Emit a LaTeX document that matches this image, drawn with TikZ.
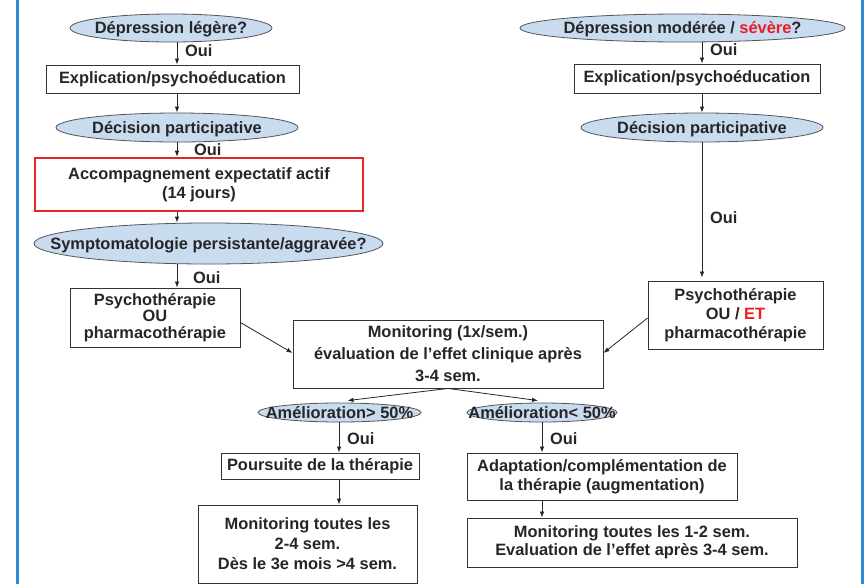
\documentclass[tikz,border=0pt]{standalone}
\usepackage{fontspec}
\setmainfont{Liberation Sans}
\usetikzlibrary{arrows.meta,shapes.geometric,calc}
\definecolor{txt}{HTML}{262626}
\definecolor{ellfill}{HTML}{C8DBEF}
\definecolor{ellline}{HTML}{555555}
\definecolor{boxline}{HTML}{333333}
\definecolor{redline}{HTML}{E3262B}
\definecolor{redtxt}{HTML}{EC1C24}
\definecolor{frameblue}{HTML}{2A8AD8}
\newcommand{\elltext}[1]{\makebox[0pt][c]{#1}}
\tikzset{
  lab/.style={font=\bfseries\fontsize{16.4}{19}\selectfont, text=txt, align=center},
  ell/.style={font=\bfseries\fontsize{16.4}{19}\selectfont, text=txt, ellipse, draw=ellline, fill=ellfill, line width=0.8pt, inner sep=0pt, text height=11.8pt, text depth=0pt},
  box/.style={lab, rectangle, draw=boxline, fill=white, line width=0.9pt, inner sep=0pt},
  redbox/.style={box, draw=redline, line width=2.6pt},
  oui/.style={lab, anchor=west, inner sep=0pt},
  arr/.style={draw=black!85, line width=0.8pt, -{Latex[length=6pt,width=4.5pt]}},
}
\begin{document}
\begin{tikzpicture}[x=1pt,y=-1pt]
\useasboundingbox (0,0) rectangle (865,584);
\fill[white] (0,0) rectangle (865,584);
\draw[frameblue, line width=2.4pt] (17.5,0) -- (17.5,584);
\draw[frameblue, line width=2.4pt] (862.5,0) -- (862.5,584);

% column x positions for vertical connectors
\coordinate (xl) at (177,0);
\coordinate (xr) at (702,0);
\coordinate (xbl) at (339,0);
\coordinate (xbr) at (542,0);

% left column
\node[ell, minimum width=202pt, minimum height=28pt] (e1) at (171,28) {\elltext{Dépression légère?}};
\node[box, minimum width=253pt, minimum height=28pt] (b1) at (172.5,79) {Explication/psychoéducation};
\node[ell, minimum width=242pt, minimum height=29pt] (e2) at (177,127.5) {\elltext{Décision participative}};
\node[redbox, minimum width=328pt, minimum height=53pt] (r1) at (199,184.5) {Accompagnement expectatif actif\\(14 jours)};
\node[ell, minimum width=349pt, minimum height=41pt] (e3) at (208.5,243.5) {\elltext{Symptomatologie persistante/aggravée?}};
\node[box, minimum width=170pt, minimum height=59pt, font=\bfseries\fontsize{16.4}{16.5}\selectfont] (p1) at (155,317.5) {Psychothérapie\\OU\\pharmacothérapie};

% right column
\node[ell, minimum width=325pt, minimum height=28pt] (e4) at (682.5,28) {\elltext{Dépression modérée / \textcolor{redtxt}{sévère}?}};
\node[box, minimum width=246pt, minimum height=29pt] (b2) at (697,78.5) {Explication/psychoéducation};
\node[ell, minimum width=242pt, minimum height=29pt] (e5) at (702,127.5) {\elltext{Décision participative}};
\node[box, minimum width=175pt, minimum height=68pt] (p2) at (735.5,315) {Psychothérapie\\OU / \textcolor{redtxt}{ET}\\pharmacothérapie};

% middle
\node[box, minimum width=310pt, minimum height=68pt, font=\bfseries\fontsize{16.4}{22}\selectfont] (m1) at (448,354) {Monitoring (1x/sem.)\\évaluation de l’effet clinique après\\3-4 sem.};
\node[ell, minimum width=163pt, minimum height=19pt] (aL) at (339.5,412.5) {\elltext{Amélioration> 50\%}};
\node[ell, minimum width=150pt, minimum height=19pt] (aR) at (542,412.5) {\elltext{Amélioration< 50\%}};
\node[box, minimum width=198pt, minimum height=26pt] (c1) at (320,466) {Poursuite de la thérapie};
\node[box, minimum width=219pt, minimum height=78pt, font=\bfseries\fontsize{16.4}{20}\selectfont] (c2) at (307.5,544) {Monitoring toutes les\\2-4 sem.\\Dès le 3e mois >4 sem.};
\node[box, minimum width=270pt, minimum height=47pt] (d1) at (602,476.5) {Adaptation/complémentation de\\la thérapie (augmentation)};
\node[box, minimum width=330pt, minimum height=49pt, font=\bfseries\fontsize{16.4}{18}\selectfont] (d2) at (632,542.5) {Monitoring toutes les 1-2 sem.\\Evaluation de l’effet après 3-4 sem.};

% Oui labels
\node[oui] (o1) at (185,51) {Oui};
\node[oui] (o2) at (194,150) {Oui};
\node[oui] (o3) at (193,278) {Oui};
\node[oui] (o4) at (710,50) {Oui};
\node[oui] (o5) at (710,218) {Oui};
\node[oui] (o6) at (347,439) {Oui};
\node[oui] (o7) at (550,439) {Oui};

% connectors left
\draw[arr] (e1.south -| xl) -- (b1.north -| xl);
\draw[arr] (b1.south -| xl) -- (e2.north -| xl);
\draw[arr] (e2.south -| xl) -- (r1.north -| xl);
\draw[arr] (r1.south -| xl) -- (e3.north -| xl);
\draw[arr] (e3.south -| xl) -- (p1.north -| xl);
% connectors right
\draw[arr] (e4.south -| xr) -- (b2.north -| xr);
\draw[arr] (b2.south -| xr) -- (e5.north -| xr);
\draw[arr] (e5.south -| xr) -- ($(p2.north -| xr)+(0,-3)$);
% to monitoring
\draw[arr] ($(p1.east)+(0,5)$) -- ($(m1.west)+(0,-1)$);
\draw[arr] ($(p2.west)+(0,3)$) -- ($(m1.east)+(0,-1)$);
% from monitoring
\draw[arr] (m1.south) -- ($(aL.north)+(8,-2)$);
\draw[arr] (m1.south) -- ($(aR.north)+(-4,-2)$);
% bottom
\draw[arr] (aL.south -| xbl) -- (c1.north -| xbl);
\draw[arr] (c1.south -| xbl) -- (c2.north -| xbl);
\draw[arr] (aR.south -| xbr) -- (d1.north -| xbr);
\draw[arr] (d1.south -| xbr) -- (d2.north -| xbr);
\end{tikzpicture}
\end{document}
